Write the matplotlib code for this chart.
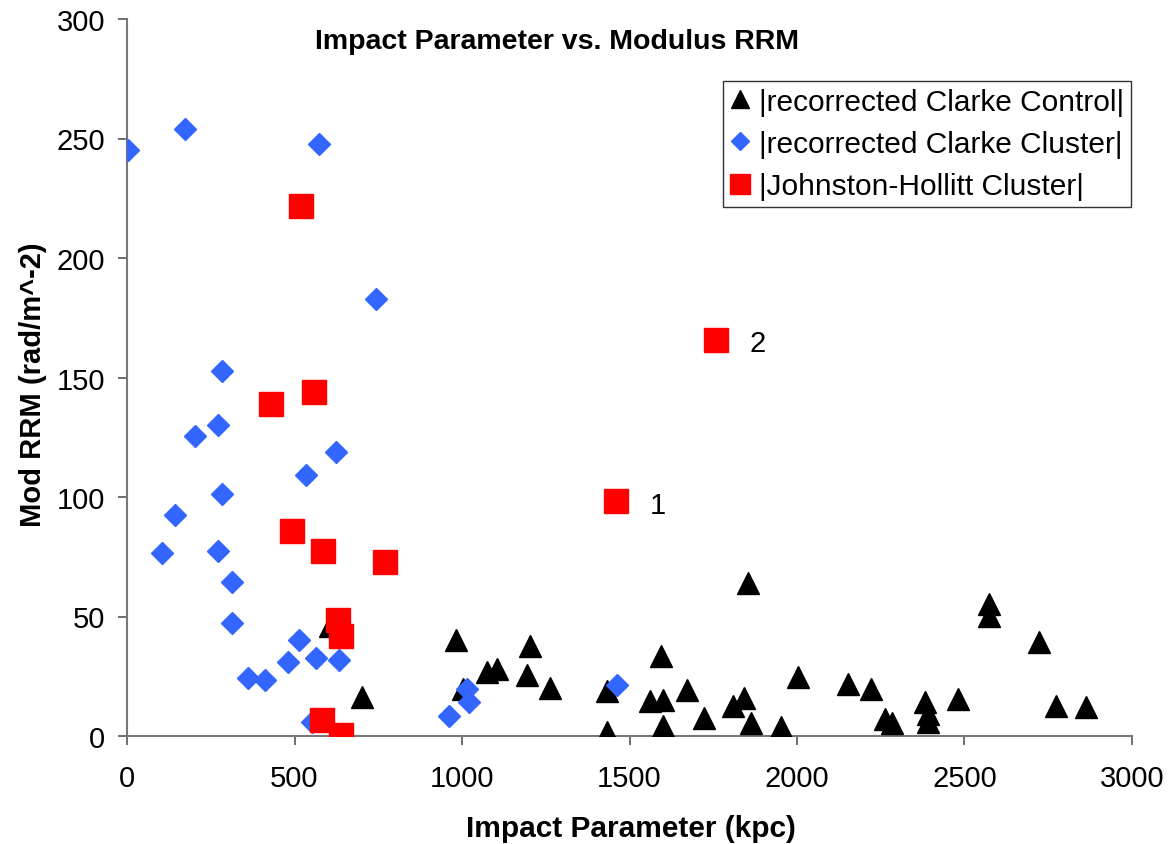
import matplotlib
matplotlib.use("Agg")
import matplotlib.pyplot as plt

plt.rcParams['font.family'] = ['Liberation Sans', 'DejaVu Sans']

control_x = [606, 701, 982, 1004, 1074, 1104, 1203, 1193, 1263, 1432, 1432, 1853, 1593,
             1561, 1601, 1601, 1673, 1722, 1810, 1842, 1862, 1952, 2002, 2152, 2221,
             2263, 2283, 2382, 2392, 2392, 2481, 2573, 2573, 2721, 2772, 2862]
control_y = [46, 16.3, 40, 19.7, 26.6, 28, 37.8, 25.5, 20, 19, 1.5, 64, 33.6,
             14.8, 15.2, 4, 19.4, 7.5, 12.7, 15.9, 5.4, 3.6, 24.5, 21.8, 19.7,
             7.1, 5.4, 14.1, 9.2, 6, 15.5, 55.2, 50.3, 39.5, 12.7, 12]

cluster_x = [3, 173, 573, 743, 283, 273, 203, 623, 533, 283, 143, 104, 273, 312, 312,
             513, 482, 563, 633, 362, 412, 553, 1014, 1022, 962, 1462]
cluster_y = [245, 254, 247.7, 182.8, 152.8, 130, 125.6, 119, 109.3, 101.2, 92.6, 76.4,
             77.4, 64.6, 47.1, 40.3, 30.8, 32.5, 31.9, 24.3, 23.6, 5.7, 19.7, 14.1, 8.2, 21.5]

jh_x = [519, 430, 558, 493, 585, 770, 630, 639, 581, 639, 1460, 1758]
jh_y = [221.9, 138.9, 143.8, 85.8, 77.4, 72.8, 48.7, 42, 6.7, 0.4, 98.3, 165.7]

point_labels = ["1", "2"]
label_x = [1460, 1758]
label_y = [98.3, 165.7]

FS = 21

fig = plt.figure(figsize=(11.71, 8.45), dpi=100)
ax = fig.add_axes([127/1171, 1 - 737/845, 1005/1171, 717/845])

ax.plot(control_x, control_y, linestyle='none', marker='^', markersize=16,
        color='black', label='|recorrected Clarke Control|', zorder=3)
ax.plot(cluster_x, cluster_y, linestyle='none', marker='D', markersize=11.2,
        color='#3366FF', label='|recorrected Clarke Cluster|', zorder=4)
ax.plot(jh_x, jh_y, linestyle='none', marker='s', markersize=17.3,
        color='#FF0000', label='|Johnston-Hollitt Cluster|', zorder=5)

for t, x, y in zip(point_labels, label_x, label_y):
    ax.annotate(t, (x, y), xytext=(30, -2.5), textcoords='offset points',
                fontsize=FS, va='center', ha='center')

ax.set_xlim(0, 3000)
ax.set_ylim(0, 300)
ax.set_xticks(range(0, 3001, 500))
ax.set_yticks(range(0, 301, 50))
ax.tick_params(axis='both', direction='out', length=6.5, width=1.2, labelsize=FS,
               color='#555555')
ax.tick_params(axis='x', pad=14)
ax.tick_params(axis='y', pad=9)
for s in ['top', 'right']:
    ax.spines[s].set_visible(False)
for s in ['left', 'bottom']:
    ax.spines[s].set_color('#777777')
    ax.spines[s].set_linewidth(1.5)

ax.set_xlabel('Impact Parameter (kpc)', fontsize=21.5, fontweight='bold', va='center')
ax.xaxis.set_label_coords(0.5015, -0.128)
ax.set_ylabel('Mod RRM (rad/m^-2)', fontsize=FS, fontweight='bold', va='center')
ax.yaxis.set_label_coords(-0.0935, 0.491)
ax.text(0.428, 0.969, 'Impact Parameter vs. Modulus RRM', transform=ax.transAxes,
        fontsize=20.5, fontweight='bold', ha='center', va='center')

leg = ax.legend(loc='upper right', bbox_to_anchor=(0.999, 0.9135), borderaxespad=0,
                fontsize=21.5, frameon=True, fancybox=False, handletextpad=0.3,
                handlelength=0.7, labelspacing=0.48, borderpad=0.22, markerscale=0.8)
leg.get_frame().set_edgecolor('black')
leg.get_frame().set_linewidth(1.0)

fig.savefig('out.png', dpi=100)
